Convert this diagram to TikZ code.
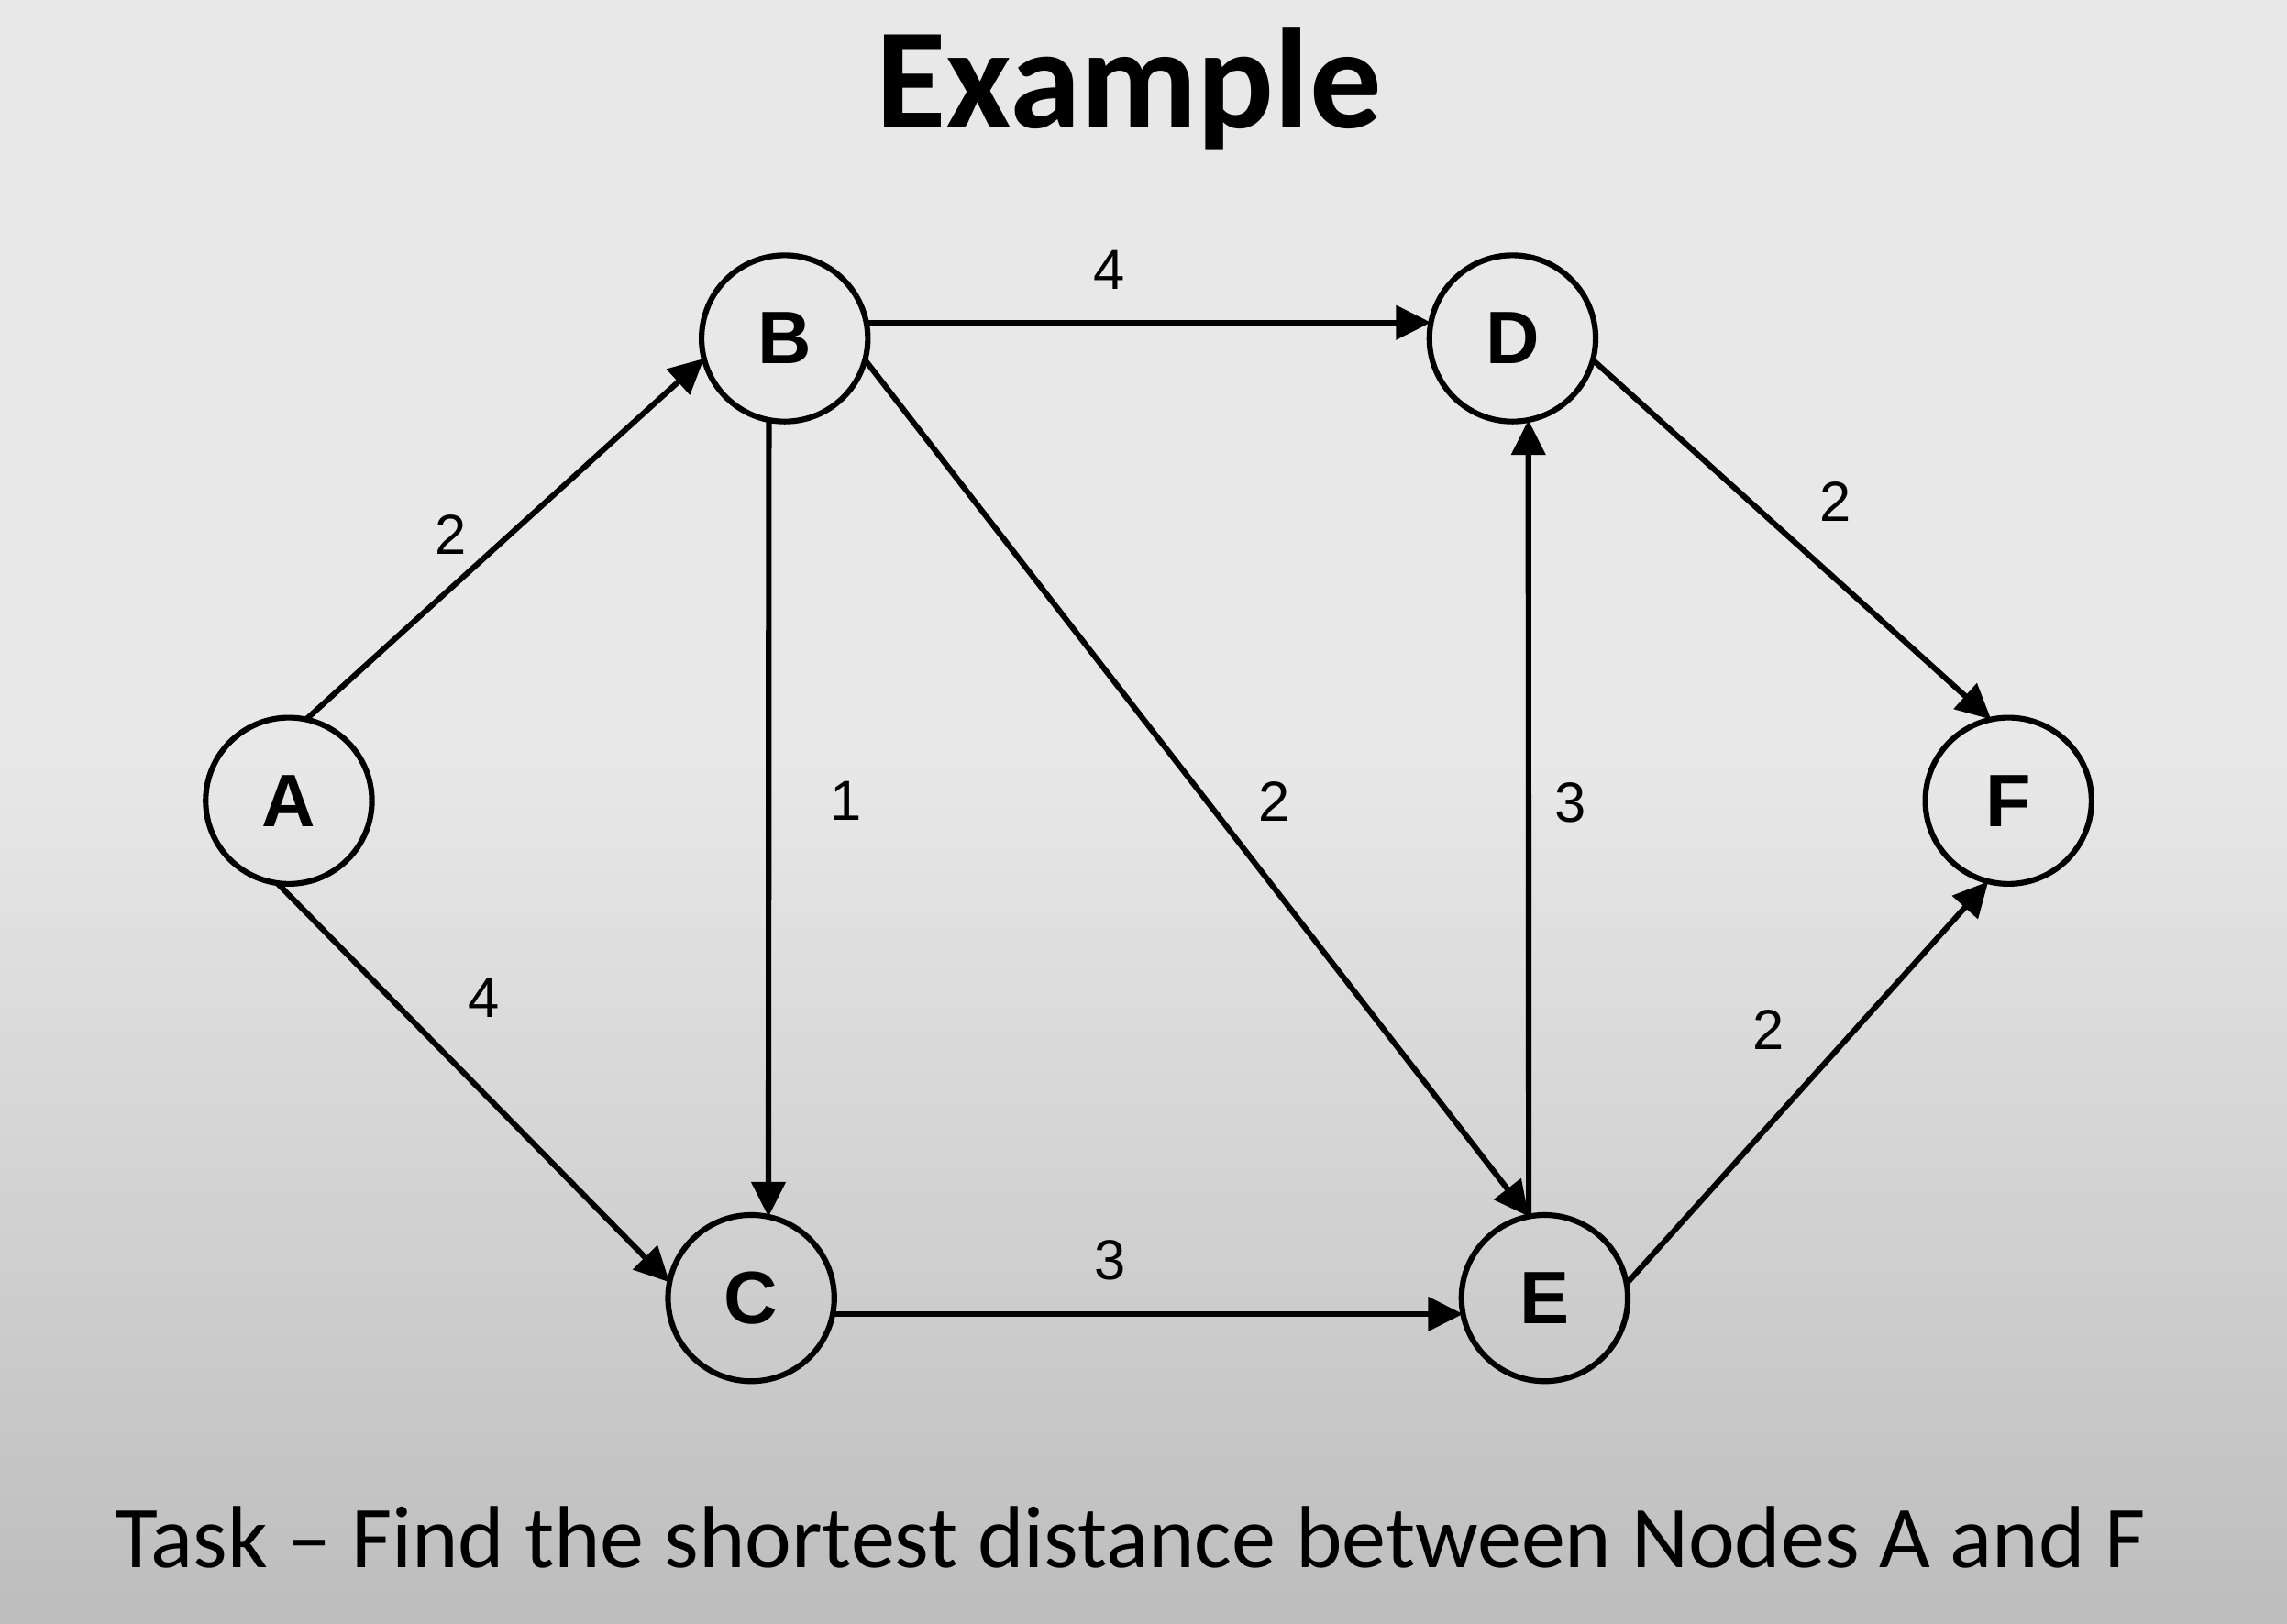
\documentclass[tikz,border=0pt]{standalone}
\usepackage{fontspec}
\setmainfont{Liberation Sans}
\newfontfamily\calibri{Carlito}
\usepackage{tikz}
\usetikzlibrary{positioning}
\usetikzlibrary{arrows.meta}
\definecolor{bgtop}{HTML}{E8E8E8}
\definecolor{bgbot}{HTML}{BDBDBD}
\tikzset{vertex/.style={draw, circle, line width=1.1pt, minimum size=1.14cm, inner sep=0pt, outer sep=0pt, font=\fontsize{14.5}{17}\selectfont\bfseries}}
\tikzset{edge/.style={line width=1.1pt, -{Triangle[length=0.24cm,width=0.23cm]}}}
\tikzset{wt/.style={font=\fontsize{11}{13}\selectfont, inner sep=0pt}}

\begin{document}
\begin{tikzpicture}
\useasboundingbox (0,0) rectangle (15.68,-11.134);
\fill[bgtop] (0,0) rectangle (15.68,-5.2);
\shade[top color=bgtop, bottom color=bgbot] (0,-5.19) rectangle (15.68,-11.134);
\node[font=\calibri\fontsize{28}{32}\selectfont\bfseries, anchor=base] (title) at (7.74,-0.88) {Example};
\node[vertex] (A) at (1.98,-5.49) {A};
\node[vertex] (B) at (5.38,-2.32) {B};
\node[vertex] (C) at (5.15,-8.90) {C};
\node[vertex] (D) at (10.37,-2.32) {D};
\node[vertex] (E) at (10.59,-8.90) {E};
\node[vertex] (F) at (13.77,-5.49) {F};
\draw[edge] (A.78) -- (B.194) node[wt, pos=.43, xshift=-1.8mm, yshift=2mm] {2};
\draw[edge] (A.262) -- (C.169) node[wt, pos=.405, xshift=3.3mm, yshift=3.2mm] {4};
\draw[edge] (B.259) -- (C.78) node[wt, pos=.478, xshift=5.3mm] {1};
\draw[edge] (B.11) -- (D.169) node[wt, pos=.43, yshift=3.6mm] {4};
\draw[edge] (B.345) -- (E.101) node[wt, pos=.553, xshift=2.9mm, yshift=2.2mm] {2};
\draw[edge] (E.101) -- (D.281) node[wt, pos=.52, xshift=2.9mm] {3};
\draw[edge] (D.345) -- (F.102) node[wt, pos=.513, xshift=2.65mm, yshift=2.9mm] {2};
\draw[edge] (C.349) -- (E.191) node[wt, pos=.44, yshift=3.7mm] {3};
\draw[edge] (E.10) -- (F.256) node[wt, pos=.525, xshift=-3.3mm, yshift=2.9mm] {2};
\node[font=\calibri\fontsize{17.2}{20}\selectfont, anchor=base] (task) at (7.75,-10.75) {Task – Find the shortest distance between Nodes A and F};
\end{tikzpicture}
\end{document}
